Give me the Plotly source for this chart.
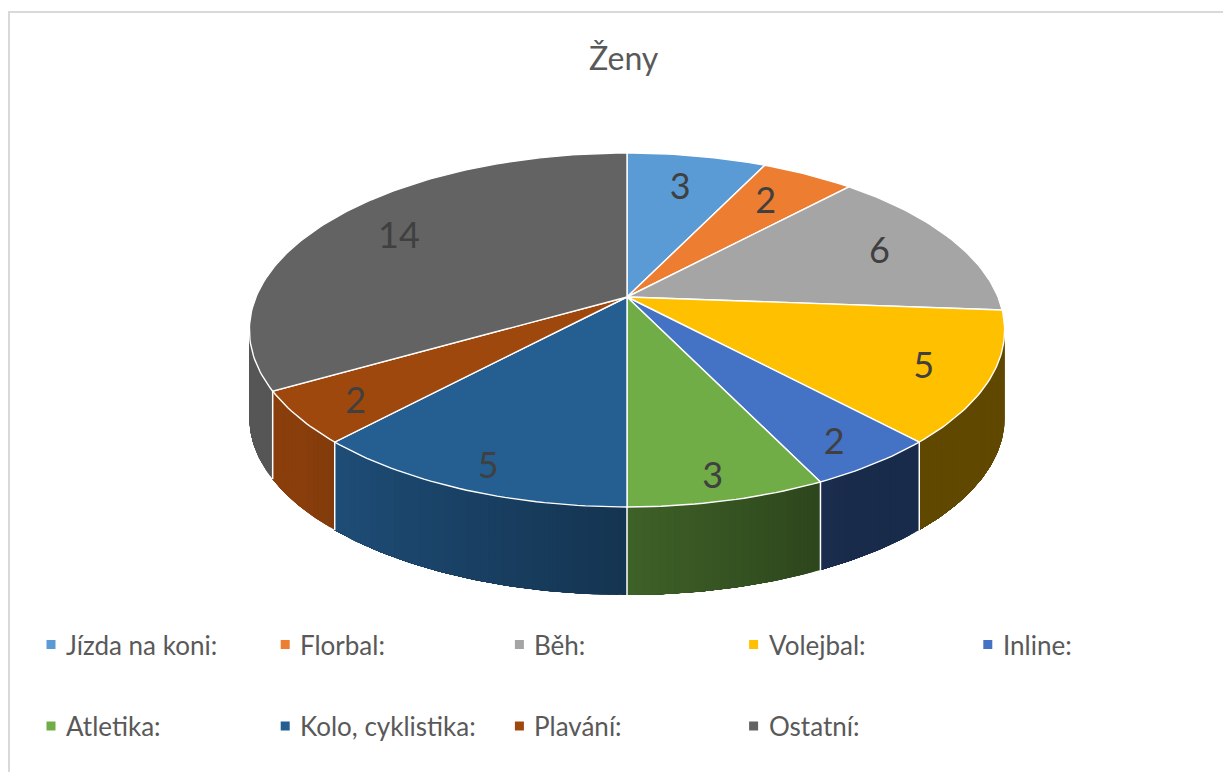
import numpy as np
import plotly.graph_objects as go

# ---- data ----
categories = ["Jízda na koni:", "Florbal:", "Běh:", "Volejbal:", "Inline:",
              "Atletika:", "Kolo, cyklistika:", "Plavání:", "Ostatní:"]
values = [3, 2, 6, 5, 2, 3, 5, 2, 14]
colors = ["#5B9BD5", "#ED7D31", "#A5A5A5", "#FFC000", "#4472C4",
          "#70AD47", "#255E91", "#9E480E", "#636363"]
title_text = "Ženy"

# ---- geometry / style (layout, not data) ----
W, H = 1231, 772
OFF = 8                    # page body margin
CX, CY = 627, 297          # projected centre of top face
RA, RB, K = 371, 170.8, 0.1864   # perspective ellipse parameters
DEPTH = 88
LA, LB, LK, LDY = 295, 140, 0.24, 4   # label placement ellipse
FONT = "Lato, 'Open Sans', sans-serif"
TXT = "#595959"


def proj(theta_deg, r=1.0, dz=0.0):
    t = np.radians(theta_deg)
    u, v = r * np.sin(t), r * np.cos(t)
    w = 1 + K * v
    return CX + RA * u / w, CY - RB * v / w + dz


def hex2rgb(h):
    h = h.lstrip("#")
    return [int(h[i:i + 2], 16) for i in (0, 2, 4)]


def shade(h, f):
    r, g, b = hex2rgb(h)
    return "rgb(%d,%d,%d)" % (r * f, g * f, b * f)


def side_factor(theta):
    return 0.38 + 0.49 * np.clip((theta - 150) / 80.0, 0, 1)


total = sum(values)
cum = np.cumsum([0] + values)
starts = cum[:-1] / total * 360.0
ends = cum[1:] / total * 360.0

theta_vis = np.degrees(np.arccos(-K))
vis_lo, vis_hi = theta_vis, 360 - theta_vis

fig = go.Figure()

# side faces (front visible part), as overlapping shaded strips
for i in range(len(values)):
    a0, a1 = max(starts[i], vis_lo), min(ends[i], vis_hi)
    if a1 <= a0:
        continue
    n = max(2, int(np.ceil((a1 - a0) / 1.0)))
    edges = np.linspace(a0, a1, n + 1)
    for j in range(n):
        ts = np.linspace(edges[j], a1, max(4, int((a1 - edges[j]) * 2)))
        xt, yt = proj(ts)
        xb, yb = proj(ts[::-1], dz=DEPTH)
        col = shade(colors[i], side_factor((edges[j] + edges[j + 1]) / 2))
        fig.add_trace(go.Scatter(
            x=np.r_[xt, xb, xt[:1]], y=np.r_[yt, yb, yt[:1]],
            mode="lines", fill="toself", fillcolor=col,
            line=dict(color=col, width=0),
            hoverinfo="skip", showlegend=False))

# white vertical edges at visible slice boundaries
for b in np.r_[starts, 360.0]:
    if vis_lo < b < vis_hi:
        x0, y0 = proj(b)
        x1, y1 = proj(b, dz=DEPTH)
        fig.add_trace(go.Scatter(x=[x0, x1], y=[y0, y1], mode="lines",
                                 line=dict(color="white", width=1.5),
                                 hoverinfo="skip", showlegend=False))

# top faces
for i in range(len(values)):
    ts = np.linspace(starts[i], ends[i], max(8, int(values[i] / total * 360)))
    xs, ys = proj(ts)
    fig.add_trace(go.Scatter(
        x=np.r_[CX, xs, CX], y=np.r_[CY, ys, CY],
        mode="lines", fill="toself", fillcolor=colors[i],
        line=dict(color="white", width=1.4),
        name=categories[i], hoverinfo="skip", showlegend=False))

# data labels
mids = np.radians((starts + ends) / 2)
den = 1 + LK * np.cos(mids)
lx = CX + LA * np.sin(mids) / den
ly = CY - LB * np.cos(mids) / den + LDY
fig.add_trace(go.Scatter(x=lx, y=ly, mode="text",
                         text=[str(v) for v in values],
                         textfont=dict(family=FONT, size=36, color="#404040"),
                         hoverinfo="skip", showlegend=False))

# legend (manual grid)
for i, name in enumerate(categories):
    col, row = i % 5, i // 5
    mx = 51 + col * 234.2
    my = 644.5 + row * 81.5
    fig.add_trace(go.Scatter(x=[mx], y=[my], mode="markers",
                             marker=dict(symbol="square", size=9, color=colors[i]),
                             hoverinfo="skip", showlegend=False))
    fig.add_annotation(x=mx + 13, y=my, text=name, showarrow=False,
                       xanchor="left", yanchor="middle",
                       font=dict(family=FONT, size=26, color=TXT))

fig.add_annotation(x=624, y=57, text=title_text, showarrow=False,
                   xanchor="center", yanchor="middle",
                   font=dict(family=FONT, size=32, color=TXT))

fig.add_shape(type="rect", x0=9, y0=12, x1=W + 20, y1=H + 20,
              line=dict(color="#D9D9D9", width=2), layer="below")

fig.update_layout(
    width=W, height=H, margin=dict(l=0, r=0, t=0, b=0),
    paper_bgcolor="white", plot_bgcolor="white",
    xaxis=dict(range=[OFF, W + OFF], visible=False, fixedrange=True),
    yaxis=dict(range=[H + OFF, OFF], visible=False, fixedrange=True),
)

fig.write_html("out.html")
